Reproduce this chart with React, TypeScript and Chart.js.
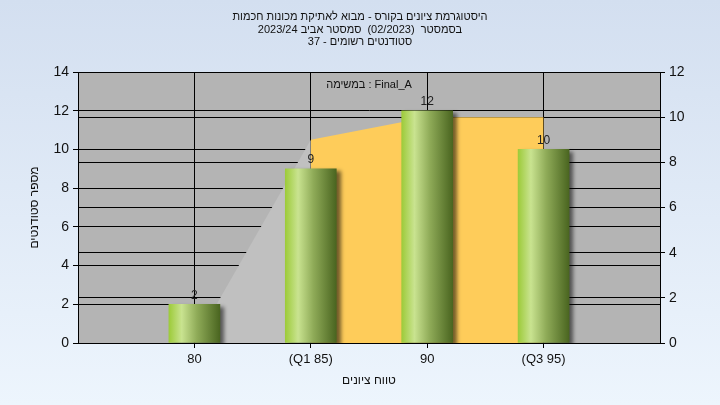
import React, { useEffect, useRef } from "react";
import { Chart, registerables } from "chart.js";

Chart.register(...registerables);

const titleLines = [
  "היסטוגרמת ציונים בקורס - מבוא לאתיקת מכונות חכמות",
  "בסמסטר  (02/2023)  סמסטר אביב 2023/24",
  "סטודנטים רשומים - 37",
];
const legendText = "Final_A : במשימה";
const xAxisTitle = "טווח ציונים";
const yAxisTitle = "מספר סטודנטים";

const categoryValues = [80, 85, 90, 95];
const categoryLabels = ["80", "(Q1 85)", "90", "(Q3 95)"];
const studentCounts = [2, 9, 12, 10];

const tailX = [80, 85];
const tailY = [0, 9];
const midX = [85, 90, 95];
const midY = [9, 10, 10];

const FONT = "'Liberation Sans', Arial, sans-serif";

const overlayPlugin = {
  id: "overlay",
  beforeDraw(chart: any) {
    const ctx = chart.ctx;
    const a = chart.chartArea;
    ctx.save();
    ctx.fillStyle = "#b4b4b4";
    ctx.fillRect(a.left, a.top, a.right - a.left, a.bottom - a.top);
    ctx.restore();
  },
  beforeDatasetDraw(chart: any, args: any) {
    if (chart.data.datasets[args.index].type === "bar") {
      const ctx = chart.ctx;
      ctx.save();
      ctx.shadowColor = "rgba(0,0,0,0.55)";
      ctx.shadowOffsetX = 4;
      ctx.shadowOffsetY = 3;
      ctx.shadowBlur = 4;
    }
  },
  afterDatasetDraw(chart: any, args: any) {
    if (chart.data.datasets[args.index].type === "bar") {
      chart.ctx.restore();
    }
  },
  afterDraw(chart: any) {
    const ctx = chart.ctx;
    const area = chart.chartArea;
    ctx.save();
    ctx.fillStyle = "#111";
    ctx.textAlign = "center";
    ctx.textBaseline = "middle";
    ctx.direction = "rtl";
    ctx.font = `11px ${FONT}`;
    titleLines.forEach((t, i) => ctx.fillText(t, 360, 17 + i * 12.5));
    ctx.fillText(legendText, (area.left + area.right) / 2, area.top + 13);
    ctx.direction = "ltr";
    ctx.font = `12px ${FONT}`;
    const meta = chart.getDatasetMeta(2);
    ctx.fillStyle = "#222";
    meta.data.forEach((el: any, i: number) => {
      ctx.fillText(String(studentCounts[i]), el.x, el.y - 9);
    });
    ctx.restore();
  },
};

function barGradient(context: any) {
  const chart = context.chart;
  const xs = chart.scales && chart.scales.x;
  if (!xs || context.raw == null) return "#9cc840";
  const cx = xs.getPixelForValue(context.raw.x);
  if (!isFinite(cx)) return "#9cc840";
  const l = cx - 25.5;
  const r = cx + 25.5;
  const g = chart.ctx.createLinearGradient(l, 0, r, 0);
  g.addColorStop(0, "#9dcb3a");
  g.addColorStop(0.25, "#c9e390");
  g.addColorStop(0.55, "#8fab58");
  g.addColorStop(1, "#4a6520");
  return g;
}

export default function App() {
  const ref = useRef<HTMLCanvasElement | null>(null);
  useEffect(() => {
    document.body.style.margin = "0";
    const canvas = ref.current!;
    const chart = new Chart(canvas, {
      data: {
        datasets: [
          {
            type: "line",
            data: tailX.map((x, i) => ({ x, y: tailY[i] })),
            yAxisID: "y2",
            fill: "origin",
            backgroundColor: "#c0c0c0",
            borderWidth: 0,
            borderColor: "rgba(0,0,0,0)",
            pointRadius: 0,
            order: 3,
          },
          {
            type: "line",
            data: midX.map((x, i) => ({ x, y: midY[i] })),
            yAxisID: "y2",
            fill: "origin",
            backgroundColor: "#fecc5a",
            borderWidth: 0,
            borderColor: "rgba(0,0,0,0)",
            pointRadius: 0,
            order: 2,
          },
          {
            type: "bar",
            data: categoryValues.map((x, i) => ({ x, y: studentCounts[i] })),
            yAxisID: "y",
            barThickness: 51,
            backgroundColor: barGradient as any,
            borderWidth: 0,
            order: 1,
          },
        ],
      } as any,
      options: {
        responsive: false,
        animation: false,
        devicePixelRatio: 1,
        layout: { padding: { top: 72, left: 0, right: 0, bottom: 0 } },
        plugins: {
          legend: { display: false },
          title: { display: false },
          tooltip: { enabled: false },
        },
        scales: {
          x: {
            type: "linear",
            min: 75,
            max: 100,
            offset: false,
            afterBuildTicks: (s: any) => {
              s.ticks = categoryValues.map((v) => ({ value: v }));
            },
            afterFit: (s: any) => {
              s.height = 62;
            },
            ticks: {
              autoSkip: false,
              maxRotation: 0,
              padding: 4,
              color: "#111",
              font: { family: FONT, size: 13 },
              callback: (v: any) => {
                const i = categoryValues.indexOf(Number(v));
                return i >= 0 ? categoryLabels[i] : "";
              },
            },
            grid: { color: "#000", lineWidth: 1, tickLength: 5, drawTicks: true, offset: false },
            border: { display: true, color: "#000", width: 1 },
            title: {
              display: true,
              text: xAxisTitle,
              color: "#111",
              font: { family: FONT, size: 12 },
              padding: { top: 0, bottom: 17 },
            },
          },
          y: {
            type: "linear",
            position: "left",
            min: 0,
            max: 14,
            afterFit: (s: any) => {
              s.width = 78;
            },
            ticks: {
              stepSize: 2,
              padding: 4,
              color: "#111",
              font: { family: FONT, size: 14 },
            },
            grid: { color: "#000", lineWidth: 1, tickLength: 5 },
            border: { display: true, color: "#000", width: 1 },
            title: {
              display: true,
              text: yAxisTitle,
              color: "#111",
              font: { family: FONT, size: 12 },
              padding: { top: 27, bottom: 0 },
            },
          },
          y2: {
            type: "linear",
            position: "right",
            min: 0,
            max: 12,
            afterFit: (s: any) => {
              s.width = 60;
            },
            ticks: {
              stepSize: 2,
              padding: 4,
              color: "#111",
              font: { family: FONT, size: 14 },
            },
            grid: { color: "#000", lineWidth: 1, tickLength: 5 },
            border: { display: true, color: "#000", width: 1 },
          },
        },
      } as any,
      plugins: [overlayPlugin],
    });
    return () => chart.destroy();
  }, []);

  return (
    <div
      style={{
        width: 720,
        height: 405,
        background: "linear-gradient(to bottom, #d3dff0 0%, #edf5fd 100%)",
      }}
    >
      <canvas ref={ref} width={720} height={405} style={{ display: "block" }} />
    </div>
  );
}
